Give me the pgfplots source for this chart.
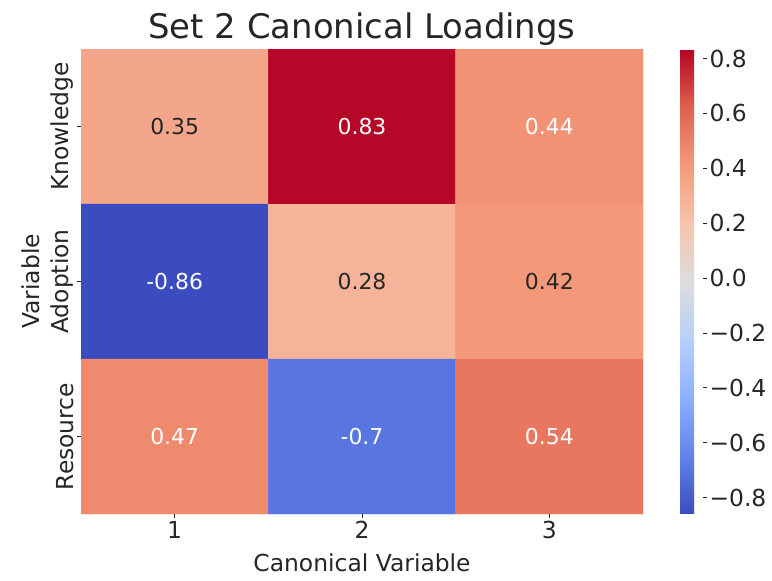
\documentclass[border=0pt]{standalone}
\usepackage{pgfplots}
\pgfplotsset{compat=1.18}
\usepackage{pgfplotstable}
\usepackage{fontspec}
\setmainfont{DejaVu Sans}

\definecolor{txt}{RGB}{38,38,38}
\newcommand\lab{\fontsize{23.5}{28}\selectfont}
\newcommand\ann{\fontsize{22}{26}\selectfont}

% canonical loadings, rows: Knowledge (0), Adoption (1), Resource (2)
\pgfplotstableread{
x y c
1 0 0.35
2 0 0.83
3 0 0.44
1 1 -0.86
2 1 0.28
3 1 0.42
1 2 0.47
2 2 -0.70
3 2 0.54
}\loadings

\pgfplotstableread{
x y lbl
1 0 0.35
2 1 0.28
3 1 0.42
}\darklabels

\pgfplotstableread{
x y lbl
2 0 0.83
3 0 0.44
1 1 -0.86
1 2 0.47
2 2 -0.7
3 2 0.54
}\lightlabels

\begin{document}
\begin{tikzpicture}
\useasboundingbox (-81bp,-67bp) rectangle (691bp,514bp);
\begin{axis}[
  at={(0,0)}, anchor=south west,
  scale only axis,
  width=562bp, height=465bp,
  xmin=0.5, xmax=3.5, ymin=-0.5, ymax=2.5,
  y dir=reverse,
  enlargelimits=false,
  axis line style={draw=none},
  tick style={txt, line width=0.8bp},
  tick align=outside,
  major tick length=4bp,
  xtick={1,2,3}, ytick={0,1,2},
  xticklabels={1,2,3},
  yticklabels={Knowledge,Adoption,Resource},
  xtick pos=bottom, ytick pos=left,
  ticklabel style={font=\lab, text=txt},
  yticklabel style={rotate=90, anchor=south},
  xlabel={Canonical Variable}, ylabel={Variable},
  label style={font=\lab, text=txt},
  xlabel style={yshift=-8bp},
  ylabel style={yshift=4bp},
  title={Set 2 Canonical Loadings},
  title style={font=\fontsize{34}{40}\selectfont, text=txt, yshift=-6bp},
  colormap={coolwarm}{
    rgb255(0)=(59,76,192) rgb255(1)=(98,130,234) rgb255(2)=(141,176,254)
    rgb255(3)=(184,208,249) rgb255(4)=(221,221,221) rgb255(5)=(245,196,173)
    rgb255(6)=(244,154,123) rgb255(7)=(222,96,77) rgb255(8)=(180,4,38)},
  point meta min=-0.86, point meta max=0.835,
  colorbar shift/.style={xshift=37bp},
  colorbar,
  colorbar style={
    at={(parent axis.north east)}, anchor=north west,
    width=23bp,
    axis line style={draw=none},
    ytick={-0.8,-0.6,...,0.8},
    yticklabels={−0.8,−0.6,−0.4,−0.2,0.0,0.2,0.4,0.6,0.8},
    ytick pos=right,
    tick align=outside,
    major tick length=4bp,
    tick style={txt, line width=0.8bp},
    yticklabel style={font=\lab, text=txt, xshift=-1bp},
  },
]
\addplot[matrix plot*, mesh/cols=3, point meta=explicit] table[x=x, y=y, meta=c] {\loadings};
\addplot[only marks, mark=none, point meta=explicit symbolic,
  nodes near coords, nodes near coords style={anchor=center, font=\ann, text=txt}]
  table[x=x, y=y, meta=lbl] {\darklabels};
\addplot[only marks, mark=none, point meta=explicit symbolic,
  nodes near coords, nodes near coords style={anchor=center, font=\ann, text=white}]
  table[x=x, y=y, meta=lbl] {\lightlabels};
\end{axis}
\end{tikzpicture}
\end{document}
